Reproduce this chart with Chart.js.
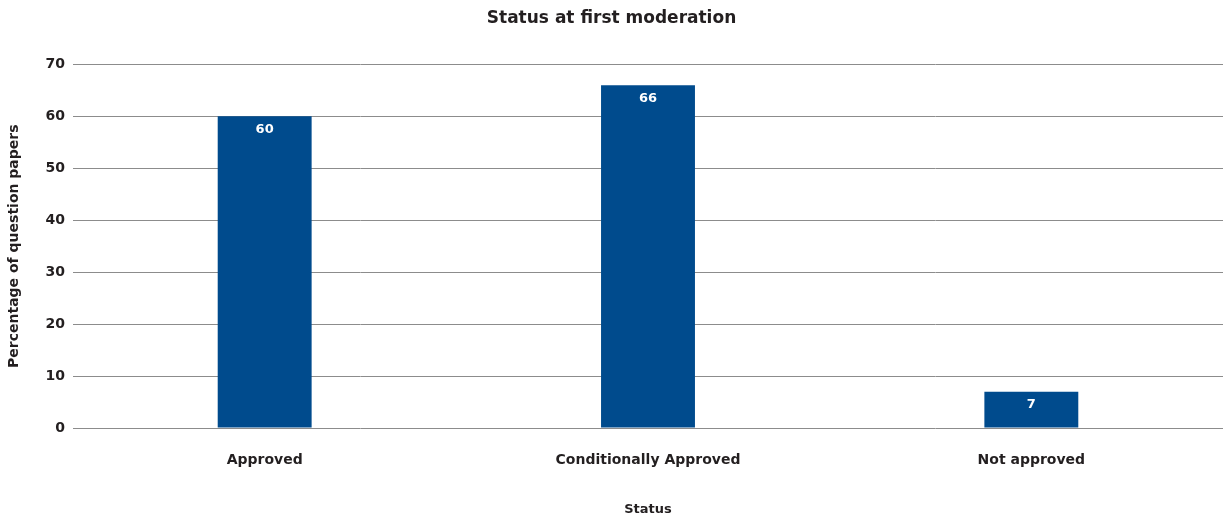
<!DOCTYPE html>
<html>
<head>
<meta charset="utf-8">
<script src="https://cdn.jsdelivr.net/npm/chart.js@4/dist/chart.umd.min.js"></script>
<style>
  html, body { margin: 0; padding: 0; background: #fff; }
  #wrap { width: 1223px; height: 517px; position: relative; }
</style>
</head>
<body>
<div id="wrap"><canvas id="statusChart"></canvas></div>
<script>
// Chart data
const categories = ['Approved', 'Conditionally Approved', 'Not approved'];
const percentages = [60, 66, 7];
const yTicks = [0, 10, 20, 30, 40, 50, 60, 70];

const FONT = '"DejaVu Sans", sans-serif';
const BAR_BLUE = '#004b8d';
const GRID_GREY = '#8c8c8c';
const TEXT_DARK = '#231f20';

// Draw the values in white near the top of each bar
const barValueLabels = {
    id: 'barValueLabels',
    afterDatasetsDraw(chart) {
        const ctx = chart.ctx;
        const meta = chart.getDatasetMeta(0);
        ctx.save();
        ctx.fillStyle = '#ffffff';
        ctx.font = 'bold 13px ' + FONT;
        ctx.textAlign = 'center';
        ctx.textBaseline = 'middle';
        meta.data.forEach((bar, i) => {
            ctx.fillText(String(percentages[i]), bar.x, bar.y + 13);
        });
        ctx.restore();
    }
};

const ctx = document.getElementById('statusChart').getContext('2d');
const chart = new Chart(ctx, {
    type: 'bar',
    data: {
        labels: categories,
        datasets: [{
            label: 'Status',
            data: percentages,
            backgroundColor: BAR_BLUE,
            borderWidth: 0,
            categoryPercentage: 1,
            barPercentage: 0.245
        }]
    },
    options: {
        responsive: true,
        maintainAspectRatio: false,
        animation: false,
        layout: { padding: { top: 8, right: 0, bottom: 0, left: 0 } },
        scales: {
            x: {
                grid: { display: false, drawTicks: false },
                border: { display: false },
                ticks: {
                    color: TEXT_DARK,
                    font: { family: FONT, size: 14, weight: 'bold' },
                    padding: 24
                },
                title: {
                    display: true,
                    text: 'Status',
                    color: TEXT_DARK,
                    font: { family: FONT, size: 13, weight: 'bold' },
                    padding: { top: 26, bottom: 0 }
                },
                afterFit(scale) { scale.height = 89; }
            },
            y: {
                min: 0,
                max: 70,
                afterBuildTicks(scale) {
                    scale.ticks = yTicks.map(v => ({ value: v }));
                },
                grid: { color: GRID_GREY, lineWidth: 1, drawTicks: false },
                border: { display: false },
                ticks: {
                    color: TEXT_DARK,
                    font: { family: FONT, size: 14, weight: 'bold' },
                    padding: 8
                },
                title: {
                    display: true,
                    text: 'Percentage of question papers',
                    color: TEXT_DARK,
                    font: { family: FONT, size: 14, weight: 'bold' },
                    padding: { top: 6, bottom: 10 }
                },
                afterFit(scale) { scale.width = 73; }
            }
        },
        plugins: {
            legend: { display: false },
            tooltip: { enabled: false },
            title: {
                display: true,
                text: 'Status at first moderation',
                color: TEXT_DARK,
                font: { family: FONT, size: 17, weight: 'bold' },
                padding: { top: 0, bottom: 36 }
            }
        }
    },
    plugins: [barValueLabels]
});
</script>
</body>
</html>
